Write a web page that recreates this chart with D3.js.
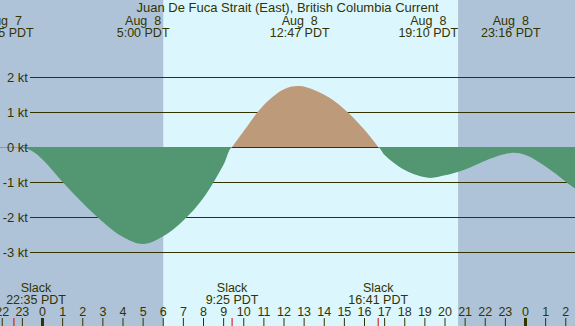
<!DOCTYPE html>
<html>
<head>
<meta charset="utf-8">
<script src="https://cdn.jsdelivr.net/npm/d3@7"></script>
<style>
  body { margin: 0; background: #fff; }
  text { font-family: "Liberation Sans", Arial, sans-serif; fill: #333300; white-space: pre; }
</style>
</head>
<body>
<div id="chart"></div>
<script>
// hours are counted from Aug 8 00:00 PDT
const title = "Juan De Fuca Strait (East), British Columbia Current";

const curveHours  = [-2.2, -1.42, -1, -0.5, 0, 1, 2, 3, 4, 5, 6, 7, 8, 9, 9.42,
                     10, 11, 12, 12.78, 14, 15, 16, 16.68, 17, 18, 19.17, 20, 21, 22, 23.27, 24, 25, 26, 26.6];
const curveSpeeds = [0.01, 0, -0.02, -0.12, -0.36, -1.0, -1.6, -2.14, -2.57, -2.77, -2.55, -2.1, -1.45, -0.5, 0,
                     0.46, 1.2, 1.65, 1.74, 1.49, 1.08, 0.49, 0, -0.23, -0.66, -0.88, -0.81, -0.64, -0.39, -0.17, -0.23, -0.56, -0.99, -1.25];

// sunrise / sunset
const nightBands = [[-3, 6.0], [20.65, 28]];

const ktTicks = [2, 1, 0, -1, -2, -3];
const hourTicks = d3.range(-2, 27);

const peakHours  = [-1.92, 5.0, 12.78, 19.17, 23.27];
const peakDates  = ["Aug  7", "Aug  8", "Aug  8", "Aug  8", "Aug  8"];
const peakLabels = ["22:05 PDT", "5:00 PDT", "12:47 PDT", "19:10 PDT", "23:16 PDT"];

const slackHours  = [-1.42, 9.42, 16.68];
const slackLabels = ["22:35 PDT", "9:25 PDT", "16:41 PDT"];

const dimensions = { width: 575, height: 326 };

const x = d3.scaleLinear().domain([0, 24]).range([42.5, 525.5]);
const y = d3.scaleLinear().domain([0, 1]).range([147, 112]);

const svg = d3.select("#chart").append("svg")
  .attr("width", dimensions.width)
  .attr("height", dimensions.height)
  .style("display", "block");

// day background then night bands
svg.append("rect")
  .attr("width", dimensions.width).attr("height", dimensions.height)
  .attr("fill", "#dcf6fe");

svg.append("g").selectAll("rect")
  .data(nightBands)
  .join("rect")
  .attr("x", d => x(d[0]))
  .attr("width", d => x(d[1]) - x(d[0]))
  .attr("y", 0)
  .attr("height", dimensions.height)
  .attr("fill", "#afc3d8");

// zero line (faint) and kt lines
svg.append("line")
  .attr("x1", 0).attr("x2", dimensions.width)
  .attr("y1", y(0) + 0.5).attr("y2", y(0) + 0.5)
  .attr("stroke", "#8c9a9c").attr("stroke-width", 1);

svg.append("g").selectAll("line")
  .data(ktTicks.filter(d => d !== 0))
  .join("line")
  .attr("x1", 30).attr("x2", dimensions.width)
  .attr("y1", d => y(d) + 0.5).attr("y2", d => y(d) + 0.5)
  .attr("stroke", "#333300").attr("stroke-width", 1);

const pts = curveHours.map((h, i) => ({ h: h, v: curveSpeeds[i] }));

const ebb = d3.area()
  .x(d => x(d.h))
  .y0(y(0))
  .y1(d => y(Math.min(0, d.v)))
  .curve(d3.curveCatmullRom.alpha(0.5));

const flood = d3.area()
  .x(d => x(d.h))
  .y0(y(0))
  .y1(d => y(Math.max(0, d.v)))
  .curve(d3.curveCatmullRom.alpha(0.5));

svg.append("path")
  .attr("d", ebb(pts))
  .attr("fill", "#529672");

svg.append("path")
  .attr("d", flood(pts.filter(d => d.h >= slackHours[1] - 0.01 && d.h <= slackHours[2] + 0.01)))
  .attr("fill", "#bd9b7a");

// flood baseline
svg.append("line")
  .attr("x1", x(slackHours[1])).attr("x2", x(slackHours[2]))
  .attr("y1", y(0) + 0.5).attr("y2", y(0) + 0.5)
  .attr("stroke", "#333300");

// kt labels
svg.append("g").selectAll("text")
  .data(ktTicks)
  .join("text")
  .attr("x", 28)
  .attr("y", d => y(d))
  .attr("dy", "0.36em")
  .attr("text-anchor", "end")
  .attr("font-size", 13)
  .text(d => d + " kt");

// title
svg.append("text")
  .attr("x", dimensions.width / 2)
  .attr("y", 12)
  .attr("text-anchor", "middle")
  .attr("font-size", 13)
  .text(title);

// peak labels at top
const peaks = svg.append("g").selectAll("g")
  .data(peakHours)
  .join("g")
  .attr("transform", d => `translate(${x(d)},0)`);
peaks.append("text")
  .attr("y", 24.5).attr("text-anchor", "middle").attr("font-size", 12.5)
  .text((d, i) => peakDates[i]);
peaks.append("text")
  .attr("y", 36.5).attr("text-anchor", "middle").attr("font-size", 12.5)
  .text((d, i) => peakLabels[i]);

// slack labels at bottom
const slacks = svg.append("g").selectAll("g")
  .data(slackHours)
  .join("g")
  .attr("transform", d => `translate(${Math.max(x(d), 36)},0)`);
slacks.append("text")
  .attr("y", 292).attr("text-anchor", "middle").attr("font-size", 12.5)
  .text("Slack");
slacks.append("text")
  .attr("y", 304).attr("text-anchor", "middle").attr("font-size", 12.5)
  .text((d, i) => slackLabels[i]);

// hour axis
svg.append("g").selectAll("text")
  .data(hourTicks)
  .join("text")
  .attr("x", d => x(d))
  .attr("y", 316)
  .attr("text-anchor", "middle")
  .attr("font-size", 12.5)
  .text(d => ((d % 24) + 24) % 24);

svg.append("g").selectAll("rect")
  .data(hourTicks)
  .join("rect")
  .attr("x", d => x(d) - (d % 24 === 0 ? 1.5 : 0.5))
  .attr("width", d => d % 24 === 0 ? 3 : 1)
  .attr("y", 318)
  .attr("height", 8)
  .attr("fill", "#333300");

svg.append("g").selectAll("rect")
  .data(slackHours)
  .join("rect")
  .attr("x", d => x(d) - 0.5)
  .attr("width", 1)
  .attr("y", 318)
  .attr("height", 8)
  .attr("fill", "#e00000");
</script>
</body>
</html>
